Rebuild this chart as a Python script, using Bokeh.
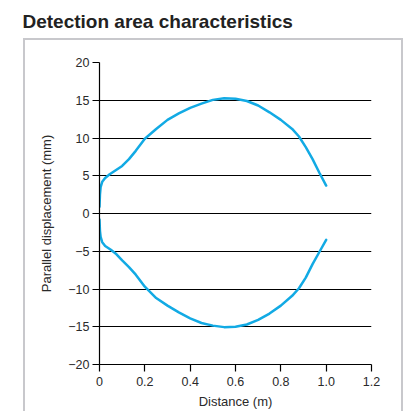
from bokeh.plotting import figure
from bokeh.models import FixedTicker, Range1d, InlineStyleSheet, Div
from bokeh.layouts import column
from bokeh.embed import file_html
from bokeh.resources import INLINE

title_text = "Detection area characteristics"
x_label = "Distance (m)"
y_label = "Parallel displacement (mm)"

xticks = [0, 0.2, 0.4, 0.6, 0.8, 1.0, 1.2]
xtick_labels = ["0", "0.2", "0.4", "0.6", "0.8", "1.0", "1.2"]
yticks = [-20, -15, -10, -5, 0, 5, 10, 15, 20]
ytick_labels = ["\u221220", "\u221215", "\u221210", "\u22125", "0", "5", "10", "15", "20"]

upper_x = [0.0, 0.002, 0.005, 0.012, 0.025, 0.045, 0.07, 0.10, 0.13, 0.16, 0.20, 0.25, 0.30, 0.35,
           0.40, 0.45, 0.50, 0.55, 0.60, 0.65, 0.70, 0.75, 0.80, 0.85, 0.88, 0.91, 0.94, 0.97, 1.0]
upper_y = [0.9, 2.5, 3.5, 4.2, 4.7, 5.2, 5.7, 6.3, 7.2, 8.3, 9.9, 11.2, 12.4, 13.25,
           14.0, 14.55, 15.05, 15.25, 15.2, 14.9, 14.3, 13.4, 12.4, 11.2, 10.2, 8.8, 7.2, 5.4, 3.7]

lower_x = [0.0, 0.002, 0.005, 0.012, 0.025, 0.05, 0.075, 0.10, 0.13, 0.16, 0.20, 0.25, 0.30, 0.35,
           0.40, 0.45, 0.50, 0.55, 0.60, 0.65, 0.70, 0.75, 0.80, 0.85, 0.88, 0.91, 0.94, 0.97, 1.0]
lower_y = [-0.8, -2.3, -3.1, -3.8, -4.3, -4.8, -5.4, -6.2, -7.1, -8.1, -9.7, -11.2, -12.2, -13.1,
           -13.9, -14.5, -14.85, -15.05, -15.0, -14.7, -14.1, -13.25, -12.2, -10.9, -9.9, -8.5, -6.7, -5.1, -3.5]

FONT = "Liberation Sans"
TXT = "#2a2a2a"
CURVE = "#12aae4"

frame_css = InlineStyleSheet(css="""
:host::after {
  content: "";
  position: absolute;
  left: 22.5px;
  top: 0.2px;
  width: 380.3px;
  height: 400px;
  border: 2.6px solid #c8c8cc;
  border-bottom: none;
  box-sizing: border-box;
  pointer-events: none;
}
""")

title = Div(text=title_text, width=419, height=38,
            styles={"font-family": FONT, "font-weight": "bold", "font-size": "19px",
                    "line-height": "20px", "color": "#222222", "padding-left": "22.5px",
                    "padding-top": "12px", "box-sizing": "border-box", "margin": "0"})

p = figure(width=419, height=373, output_backend="svg", toolbar_location=None,
           x_range=Range1d(0, 1.2), y_range=Range1d(-20, 20),
           min_border_left=99, min_border_right=48, min_border_top=24, min_border_bottom=47)
p.stylesheets = [frame_css]
p.outline_line_color = None
p.background_fill_color = "white"
p.border_fill_color = "white"

p.line(upper_x, upper_y, line_color=CURVE, line_width=2.5, line_cap="round", line_join="round")
p.line(lower_x, lower_y, line_color=CURVE, line_width=2.5, line_cap="round", line_join="round")

p.xgrid.visible = False
p.ygrid.ticker = FixedTicker(ticks=yticks)
p.ygrid.grid_line_color = "black"
p.ygrid.grid_line_width = 1.2

p.xaxis.ticker = FixedTicker(ticks=xticks)
p.yaxis.ticker = FixedTicker(ticks=yticks)
p.xaxis.major_label_overrides = {t: l for t, l in zip(xticks, xtick_labels)}
p.yaxis.major_label_overrides = {t: l for t, l in zip(yticks, ytick_labels)}

for ax in (p.xaxis[0], p.yaxis[0]):
    ax.axis_line_color = "black"
    ax.axis_line_width = 1.2
    ax.major_tick_line_color = "black"
    ax.major_tick_line_width = 1.2
    ax.major_tick_out = 7
    ax.major_tick_in = 0
    ax.minor_tick_line_color = None
    ax.major_label_text_font = FONT
    ax.major_label_text_font_size = "12.5px"
    ax.major_label_text_color = TXT
    ax.axis_label_text_font = FONT
    ax.axis_label_text_font_style = "normal"
    ax.axis_label_text_font_size = "13px"
    ax.axis_label_text_color = TXT

p.xaxis.axis_label = x_label
p.yaxis.axis_label = y_label
p.xaxis.major_label_standoff = 5
p.xaxis.axis_label_standoff = 5
p.yaxis.major_label_standoff = 3
p.yaxis.axis_label_standoff = 11

layout = column(title, p, spacing=0)
open("out.html", "w").write(file_html(layout, INLINE))
